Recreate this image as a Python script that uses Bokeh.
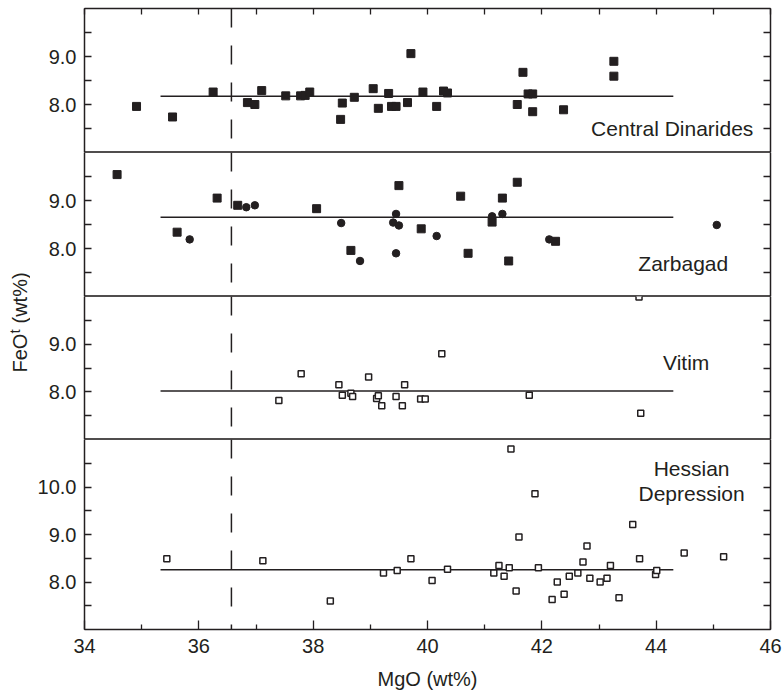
import math
from bokeh.plotting import figure
from bokeh.models import Range1d, LinearAxis, FixedTicker, PrintfTickFormatter, Span, Label
from bokeh.layouts import column, row
from bokeh.embed import file_html
from bokeh.resources import INLINE

# ---------------- data ----------------
panel_names = ["Central Dinarides", "Zarbagad", "Vitim", "Hessian Depression"]

# Central Dinarides (filled squares)
cd_mgo = [34.91, 35.54, 36.25, 36.85, 36.98, 37.10, 37.52, 37.78, 37.86, 37.94,
          38.48, 38.51, 38.72, 39.05, 39.14, 39.32, 39.37, 39.45, 39.65, 39.71,
          39.92, 40.16, 40.28, 40.35, 41.57, 41.67, 41.76, 41.84, 41.84, 42.38,
          43.26, 43.26]
cd_feo = [7.96, 7.74, 8.26, 8.04, 8.00, 8.29, 8.18, 8.18, 8.19, 8.26,
          7.69, 8.03, 8.15, 8.33, 7.92, 8.23, 7.96, 7.96, 8.04, 9.06,
          8.26, 7.96, 8.28, 8.24, 8.00, 8.67, 8.22, 8.22, 7.85, 7.89,
          8.59, 8.90]

# Zarbagad (filled squares and filled circles)
zs_mgo = [34.57, 35.62, 36.32, 36.68, 38.06, 38.66, 39.50, 39.89, 40.58, 40.71,
          41.13, 41.31, 41.42, 41.57, 42.24]
zs_feo = [9.54, 8.34, 9.05, 8.90, 8.83, 7.96, 9.31, 8.41, 9.09, 7.90,
          8.55, 9.05, 7.74, 9.38, 8.15]
zc_mgo = [35.84, 36.83, 36.98, 38.49, 38.82, 39.40, 39.45, 39.45, 39.50, 40.16,
          41.13, 41.31, 42.13, 45.06]
zc_feo = [8.19, 8.86, 8.90, 8.53, 7.74, 8.54, 8.72, 7.90, 8.48, 8.26,
          8.67, 8.72, 8.19, 8.49]

# Vitim (open squares)
v_mgo = [37.40, 37.79, 38.45, 38.51, 38.66, 38.69, 38.97, 39.11, 39.14, 39.20,
         39.45, 39.56, 39.60, 39.88, 39.96, 40.25, 41.78, 43.73, 43.70]
v_feo = [7.82, 8.38, 8.15, 7.93, 7.97, 7.90, 8.31, 7.86, 7.92, 7.71,
         7.90, 7.71, 8.15, 7.85, 7.85, 8.80, 7.93, 7.55, 9.99]

# Hessian Depression (open squares)
h_mgo = [35.44, 37.12, 38.30, 39.23, 39.47, 39.71, 40.08, 40.35, 41.16, 41.25,
         41.34, 41.43, 41.46, 41.55, 41.60, 41.88, 41.94, 42.18, 42.27, 42.39,
         42.48, 42.63, 42.72, 42.79, 42.84, 43.02, 43.14, 43.20, 43.35, 43.59,
         43.71, 43.99, 44.01, 44.49, 45.18]
h_feo = [8.49, 8.45, 7.60, 8.19, 8.24, 8.49, 8.03, 8.27, 8.19, 8.35,
         8.12, 8.30, 10.80, 7.81, 8.95, 9.86, 8.30, 7.63, 8.00, 7.74,
         8.12, 8.19, 8.42, 8.76, 8.08, 8.00, 8.08, 8.35, 7.67, 9.21,
         8.49, 8.16, 8.24, 8.61, 8.53]

# mean FeOt line of each panel, drawn over a MgO interval
mean_feo = [8.17, 8.65, 8.02, 8.26]
mean_mgo_from = 35.33
mean_mgo_to = 44.30

# vertical dashed reference line
mgo_ref = 36.57

x_major = [34, 36, 38, 40, 42, 44, 46]
x_minor = [35, 37, 39, 41, 43, 45]
y_major = [8, 9]
y_major_hd = [8, 9, 10]
y_minor = [7.5, 8.5, 9.5]
y_minor_hd = [7.5, 8.5, 9.5, 10.5]

# ---------------- styling ----------------
INK = "#231f20"
FONT = "Liberation Sans"
LEFT_W = 30
FIG_W = 783 - LEFT_W
ML = 84 - LEFT_W
MR = 13


def tick_style(ax, tin=7):
    ax.axis_line_color = INK
    ax.axis_line_width = 1.5
    ax.major_tick_in = tin
    ax.major_tick_out = 0
    ax.minor_tick_in = tin
    ax.minor_tick_out = 0
    ax.major_tick_line_color = INK
    ax.minor_tick_line_color = INK
    ax.major_tick_line_width = 1.3
    ax.minor_tick_line_width = 1.3
    ax.major_label_text_font = FONT
    ax.major_label_text_font_size = "20px"
    ax.major_label_text_color = INK


def hidden_labels(ax, ticks):
    ax.major_label_overrides = {t: "" for t in ticks}
    ax.major_label_text_font_size = "0px"
    ax.major_label_standoff = 0


def base_fig(w, h, xr, yr, **kw):
    return figure(width=w, height=h, x_range=xr, y_range=yr,
                  x_axis_location=None, y_axis_location=None, toolbar_location=None,
                  output_backend="svg", background_fill_color="white",
                  border_fill_color="white", **kw)


def make_panel(h, ymax, majors, minors, top=0, bottom=0):
    p = base_fig(FIG_W, h, Range1d(34, 46), Range1d(7, ymax), min_border=0,
                 min_border_left=ML, min_border_right=MR,
                 min_border_top=top, min_border_bottom=bottom,
                 outline_line_color=INK, outline_line_width=0.8)
    p.grid.visible = False
    ya = LinearAxis(ticker=FixedTicker(ticks=majors, minor_ticks=minors),
                    formatter=PrintfTickFormatter(format="%.1f"))
    tick_style(ya)
    ya.major_label_standoff = 8
    p.add_layout(ya, "left")
    yr = LinearAxis(ticker=FixedTicker(ticks=majors, minor_ticks=minors))
    tick_style(yr)
    hidden_labels(yr, majors)
    p.add_layout(yr, "right")
    p.add_layout(Span(location=mgo_ref, dimension="height", line_color=INK,
                      line_width=1.5, line_dash="19 18", level="underlay"))
    return p


def mean_line(p, m):
    p.segment(x0=[mean_mgo_from], y0=[m], x1=[mean_mgo_to], y1=[m],
              line_color=INK, line_width=1.5)


def panel_label(p, x, y, text, align="right", size="21px"):
    p.add_layout(Label(x=x, y=y, text=text, text_align=align, text_baseline="middle",
                       text_font=FONT, text_font_size=size, text_color=INK))


# Panel 1: Central Dinarides
p1 = make_panel(152, 10, y_major, y_minor, top=8)
xt = LinearAxis(ticker=FixedTicker(ticks=list(range(34, 47))))
tick_style(xt, tin=6)
hidden_labels(xt, list(range(34, 47)))
p1.add_layout(xt, "above")
mean_line(p1, mean_feo[0])
p1.scatter(cd_mgo, cd_feo, marker="square", size=8, fill_color=INK, line_color=INK)
panel_label(p1, 45.70, 7.50, panel_names[0])

# Panel 2: Zarbagad
p2 = make_panel(144, 10, y_major, y_minor)
mean_line(p2, mean_feo[1])
p2.scatter(zs_mgo, zs_feo, marker="square", size=8, fill_color=INK, line_color=INK)
p2.scatter(zc_mgo, zc_feo, marker="circle", size=7.5, fill_color=INK, line_color=INK)
panel_label(p2, 45.26, 7.69, panel_names[1])

# Panel 3: Vitim
p3 = make_panel(143, 10, y_major, y_minor)
mean_line(p3, mean_feo[2])
p3.scatter(v_mgo, v_feo, marker="square", size=6, fill_color="white", line_color=INK,
           line_width=1.5)
panel_label(p3, 44.93, 8.61, panel_names[2])

# Panel 4: Hessian Depression
p4 = make_panel(224, 11, y_major_hd, y_minor_hd, bottom=34)
xb = LinearAxis(ticker=FixedTicker(ticks=x_major, minor_ticks=x_minor))
tick_style(xb, tin=9)
xb.minor_tick_in = 5
xb.major_label_standoff = 9
p4.add_layout(xb, "below")
mean_line(p4, mean_feo[3])
p4.scatter(h_mgo, h_feo, marker="square", size=6, fill_color="white", line_color=INK,
           line_width=1.5)
hd_words = panel_names[3].split(" ")
panel_label(p4, 44.62, 10.39, hd_words[0], align="center")
panel_label(p4, 44.62, 9.86, hd_words[1], align="center")

# x-axis title strip
xl = base_fig(FIG_W, 30, Range1d(34, 46), Range1d(0, 1), min_border=0,
              min_border_left=ML, min_border_right=MR, outline_line_color=None)
xl.grid.visible = False
panel_label(xl, 40.0, 0.5, "MgO (wt%)", align="center", size="20px")

# Shared y-axis title, in its own narrow strip
lf = base_fig(LEFT_W, 693, Range1d(0, LEFT_W), Range1d(0, 693), min_border=0,
              outline_line_color=None)
lf.grid.visible = False
common = dict(angle=math.pi / 2, text_align="left", text_baseline="middle",
              text_font=FONT, text_color=INK)
lf.add_layout(Label(x=19, y=321, text="FeO", text_font_size="20px", **common))
lf.add_layout(Label(x=14, y=360, text="t", text_font_size="15px", **common))
lf.add_layout(Label(x=19, y=370, text="(wt%)", text_font_size="20px", **common))

layout = row(lf, column(p1, p2, p3, p4, xl, spacing=0), spacing=0)

open("out.html", "w").write(file_html(layout, INLINE))
